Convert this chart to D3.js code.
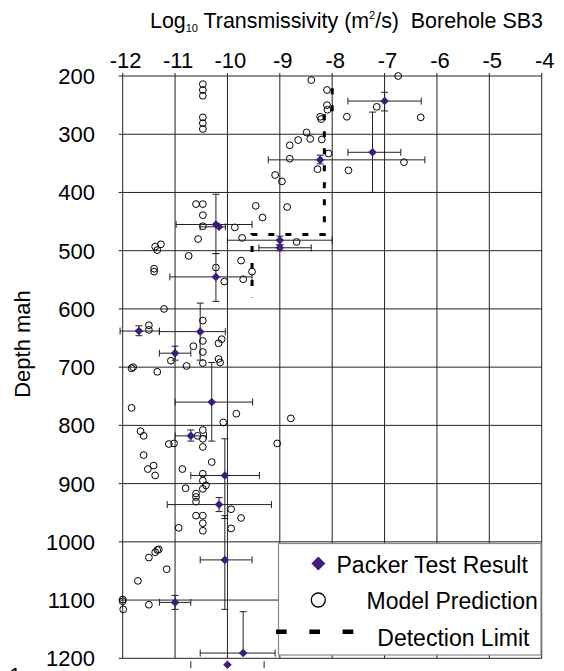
<!DOCTYPE html>
<html>
<head>
<meta charset="utf-8">
<script src="https://cdn.jsdelivr.net/npm/d3@7"></script>
<style>
  html, body { margin: 0; padding: 0; background: #fff; }
  svg { display: block; font-family: "Liberation Sans", Arial, sans-serif; }
</style>
</head>
<body>
<div id="chart"></div>
<script>
// ---------- data ----------
const xTickValues = [-12, -11, -10, -9, -8, -7, -6, -5, -4];
const yTickValues = [200, 300, 400, 500, 600, 700, 800, 900, 1000, 1100, 1200];

// Model prediction (log10 T, depth)
const modelLogT = [
  -6.74, -8.40, -10.47, -10.47, -10.47, -8.10, -8.10, -8.09, -7.15, -8.23,
  -8.21, -7.72, -6.31, -10.47, -10.47, -10.47, -8.49, -8.65, -8.42, -8.20,
  -8.81, -8.07, -8.81, -8.28, -7.69, -6.63, -9.09, -8.96, -10.60, -10.47,
  -10.47, -9.46, -8.86, -9.33, -10.47, -9.86, -10.56, -9.72, -8.68, -11.38,
  -11.27, -11.34, -10.74, -9.74, -9.53, -11.40, -11.40, -10.22, -10.06, -9.70,
  -11.21, -10.47, -11.50, -11.50, -10.47, -10.65, -10.17, -10.11, -10.47, -11.08,
  -10.78, -10.17, -10.14, -10.47, -11.83, -11.80, -11.34, -11.83, -9.83, -10.08,
  -8.79, -11.66, -11.60, -10.47, -10.57, -10.47, -10.47, -11.12, -11.02, -9.05,
  -11.60, -10.30, -11.41, -11.52, -11.38, -10.86, -10.47, -10.47, -10.41, -10.47,
  -10.80, -10.60, -10.60, -10.60, -9.93, -9.74, -10.60, -10.47, -10.47, -10.47,
  -10.93, -9.93, -11.34, -11.31, -11.38, -11.50, -11.16, -11.71, -12.00, -12.00,
  -11.99, -11.50
];
const modelDepth = [
  200, 207, 214, 224, 234, 224, 250, 258, 253, 270,
  274, 270, 271, 271, 281, 291, 297, 310, 308, 309,
  319, 333, 342, 360, 362, 348, 370, 381, 420, 420,
  439, 423, 425, 443, 458, 460, 480, 478, 485, 493,
  489, 499, 509, 517, 536, 531, 536, 529, 553, 549,
  600, 620, 628, 636, 655, 664, 659, 652, 674, 689,
  698, 686, 692, 693, 702, 700, 708, 770, 780, 795,
  788, 810, 818, 808, 818, 823, 837, 832, 831, 831,
  851, 863, 869, 875, 886, 875, 883, 895, 903, 909,
  908, 917, 923, 931, 944, 959, 955, 955, 968, 981,
  976, 977, 1014, 1013, 1018, 1027, 1047, 1067, 1099, 1102,
  1116, 1108
];

// Packer test results with error ranges
const packerLogT  = [-7.00, -7.23, -8.23, -10.22, -10.16, -9.00, -9.00, -10.22, -11.69, -10.52, -11.00, -10.30, -10.70, -10.05, -10.16, -10.05, -11.00, -9.70, -10.00];
const packerDepth = [243, 331, 344, 455, 459, 482, 495, 545, 638, 639, 676, 760, 818, 886, 936, 1031, 1104, 1191, 1211];
const packerLogTLow  = [-7.70, -7.70, -9.22, -10.98, -10.52, -10.00, -9.40, -11.10, -12.05, -11.30, -11.30, -11.00, -11.00, -10.70, -11.15, -10.52, -11.30, -10.52, -10.70];
const packerLogTHigh = [-6.30, -6.69, -6.23, -9.53, -10.04, -8.00, -8.40, -9.53, -11.30, -10.04, -10.70, -9.52, -10.40, -9.39, -9.16, -9.53, -10.70, -9.09, -9.30];
const packerDepthLow  = [228, 262, 336, 403, 459, 475, 490, 505, 629, 590, 664, 692, 808, 823, 924, 955, 1092, 1120, 1211];
const packerDepthHigh = [260, 400, 351, 505, 459, 490, 500, 587, 646, 688, 688, 827, 827, 960, 948, 1116, 1116, 1191, 1211];

// Detection limit step line
const limitLogT  = [-8.00, -8.00, -8.15, -8.15, -9.53, -9.53];
const limitDepth = [221, 261, 261, 472, 472, 580];

// ---------- drawing ----------
const W = 564, H = 671;
const svg = d3.select("#chart").append("svg").attr("width", W).attr("height", H);

const x = d3.scaleLinear().domain([-12, -4]).range([122.7, 541.7]);
const y = d3.scaleLinear().domain([200, 1200]).range([76, 658.3]);

const gridColor = "#222";
const markColor = "#3f1c7c";
const FS = 22;

// clip for error bar lines (vertical extent of plot)
svg.append("defs").append("clipPath").attr("id", "yclip")
  .append("rect").attr("x", 0).attr("y", y(200) - 1)
  .attr("width", W).attr("height", y(1200) - y(200) + 2);

// grid lines
const grid = svg.append("g");
grid.selectAll("line.v").data(xTickValues).join("line")
  .attr("x1", d => x(d)).attr("x2", d => x(d))
  .attr("y1", y(200) - 3).attr("y2", y(1200))
  .attr("stroke", gridColor).attr("stroke-width", 1);
grid.selectAll("line.h").data(yTickValues).join("line")
  .attr("y1", d => y(d)).attr("y2", d => y(d))
  .attr("x1", x(-12) - 4).attr("x2", x(-4))
  .attr("stroke", gridColor).attr("stroke-width", 1);

// tick labels
svg.append("g").selectAll("text").data(xTickValues).join("text")
  .attr("x", d => x(d) + 3).attr("y", 68)
  .attr("text-anchor", "middle").attr("font-size", FS).attr("fill", "#000")
  .text(d => d);
svg.append("g").selectAll("text").data(yTickValues).join("text")
  .attr("x", 95).attr("y", d => y(d) + 8)
  .attr("text-anchor", "end").attr("font-size", FS).attr("fill", "#000")
  .text(d => d);

// title
const title = svg.append("text").attr("x", 150).attr("y", 28).attr("font-size", 21.4).attr("fill", "#000");
title.append("tspan").text("Log");
title.append("tspan").attr("font-size", 11).attr("dy", 4).text("10");
title.append("tspan").attr("dy", -4).text(" Transmissivity (m");
title.append("tspan").attr("font-size", 11).attr("dy", -9).text("2");
title.append("tspan").attr("dy", 9).text("/s)\u00a0\u00a0Borehole SB3");

// y-axis label
svg.append("text").attr("transform", "translate(30,344) rotate(-90)")
  .attr("text-anchor", "middle").attr("font-size", FS).attr("fill", "#000")
  .text("Depth mah");

// partial glyph at bottom-left edge (as in the source)
svg.append("text").attr("x", 9).attr("y", 683).attr("font-size", FS).attr("fill", "#000").text("1");

// detection limit
const limitLine = d3.line().x(d => x(d[0])).y(d => y(d[1]));
svg.append("path")
  .attr("d", limitLine(limitLogT.map((v, i) => [v, limitDepth[i]])))
  .attr("fill", "none").attr("stroke", "#000").attr("stroke-width", 3)
  .attr("stroke-dasharray", "6,11");

// model predictions
svg.append("g").selectAll("circle").data(modelLogT.map((v, i) => [v, modelDepth[i]])).join("circle")
  .attr("cx", d => x(d[0])).attr("cy", d => y(d[1])).attr("r", 3.4)
  .attr("fill", "none").attr("stroke", "#000").attr("stroke-width", 1);

// error bars
const packer = packerLogT.map((v, i) => ({
  t: v, d: packerDepth[i], tl: packerLogTLow[i], th: packerLogTHigh[i],
  dl: packerDepthLow[i], dh: packerDepthHigh[i]
}));
const eb = svg.append("g").attr("stroke", "#222").attr("stroke-width", 1);
const ebLines = eb.append("g").attr("clip-path", "url(#yclip)");
const cap = 3.5;
packer.forEach(p => {
  ebLines.append("line").attr("x1", x(p.tl)).attr("x2", x(p.th)).attr("y1", y(p.d)).attr("y2", y(p.d));
  eb.append("line").attr("x1", x(p.tl)).attr("x2", x(p.tl)).attr("y1", y(p.d) - cap).attr("y2", y(p.d) + cap);
  eb.append("line").attr("x1", x(p.th)).attr("x2", x(p.th)).attr("y1", y(p.d) - cap).attr("y2", y(p.d) + cap);
  if (p.dh > p.dl) {
    ebLines.append("line").attr("x1", x(p.t)).attr("x2", x(p.t)).attr("y1", y(p.dl)).attr("y2", y(p.dh));
    if (p.dl < p.d) eb.append("line").attr("x1", x(p.t) - cap).attr("x2", x(p.t) + cap).attr("y1", y(p.dl)).attr("y2", y(p.dl));
    if (p.dh > p.d) eb.append("line").attr("x1", x(p.t) - cap).attr("x2", x(p.t) + cap).attr("y1", y(p.dh)).attr("y2", y(p.dh));
  }
});

// diamonds
const diamond = r => `M0,${-r}L${r},0L0,${r}L${-r},0Z`;
svg.append("g").selectAll("path").data(packer).join("path")
  .attr("d", diamond(4.3))
  .attr("transform", p => `translate(${x(p.t)},${y(p.d)})`)
  .attr("fill", markColor);

// legend
const LFS = 23;
const lg = svg.append("g");
lg.append("rect").attr("x", 278.5).attr("y", 543.5).attr("width", 262.5).attr("height", 111.5)
  .attr("fill", "#fff").attr("stroke", "#888").attr("stroke-width", 1.2);
lg.append("path").attr("d", diamond(7)).attr("transform", "translate(318.3,563.5)").attr("fill", markColor);
lg.append("text").attr("x", 336.5).attr("y", 572.5).attr("font-size", LFS).attr("fill", "#000").text("Packer Test Result");
lg.append("circle").attr("cx", 318.3).attr("cy", 600).attr("r", 7).attr("fill", "none").attr("stroke", "#000").attr("stroke-width", 1.3);
lg.append("text").attr("x", 366.5).attr("y", 609).attr("font-size", LFS).attr("fill", "#000").text("Model Prediction");
lg.append("line").attr("x1", 276).attr("x2", 356).attr("y1", 631.7).attr("y2", 631.7)
  .attr("stroke", "#000").attr("stroke-width", 4.5).attr("stroke-dasharray", "10.7,22.6");
lg.append("text").attr("x", 377.3).attr("y", 646).attr("font-size", LFS).attr("fill", "#000").text("Detection Limit");
</script>
</body>
</html>
